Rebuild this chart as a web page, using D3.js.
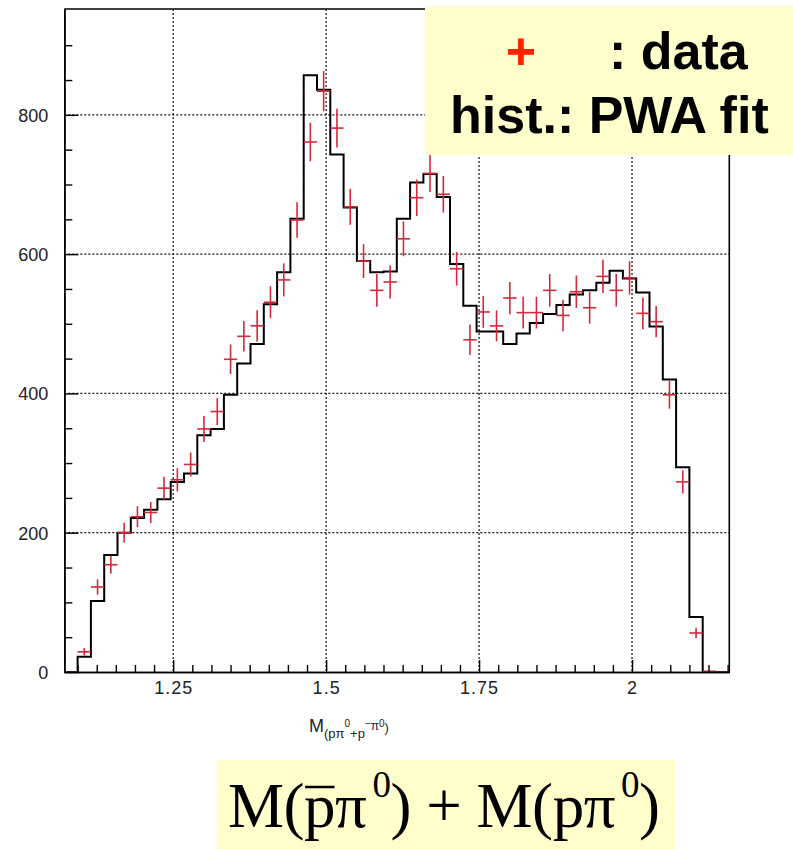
<!DOCTYPE html>
<html>
  <head>
    <meta charset="utf-8">
    <title>M(pbar pi0) + M(p pi0) - data vs PWA fit</title>
    <script src="https://d3js.org/d3.v7.min.js"></script>
    <style>
      body { margin: 0; background: #fff; }
      text { font-family: 'Liberation Sans', Arial, sans-serif; }
    </style>
  </head>
  <body>
    <div id="chart"></div>

    <script>
      // Histogram binning (50 bins) and axis ranges
      const xMin = 1.072;
      const xMax = 2.159;
      const nBins = 50;
      const yMax = 952;

      // PWA fit histogram contents, one per bin
      const fitValues = [
        0, 22, 102, 168, 200, 221, 233, 248, 273, 285,
        340, 349, 398, 443, 471, 528, 574, 651, 857, 836,
        743, 667, 590, 574, 575, 651, 703, 715, 682, 586,
        526, 489, 489, 471, 486, 501, 514, 527, 542, 548,
        559, 576, 565, 545, 496, 420, 294, 79, 0, 0
      ];

      // measured data, one per bin (errors are sqrt(N))
      const dataValues = [
        0, 29, 122, 154, 200, 223, 229, 264, 276, 298,
        349, 374, 449, 482, 497, 531, 563, 649, 761, 834,
        781, 668, 590, 548, 560, 622, 681, 716, 686, 579,
        477, 517, 497, 537, 516, 516, 548, 512, 546, 523,
        568, 548, 566, 515, 503, 398, 273, 56, 1, 0
      ];

      // tick values and labels
      const xMajorTicks = [1.25, 1.5, 1.75, 2];
      const xTickLabels = ['1.25', '1.5', '1.75', '2'];
      const yMajorTicks = [0, 200, 400, 600, 800];
      const yGridLines = [200, 400, 600, 800];

      const width = 793, height = 849;
      const plot = { left: 64.3, right: 729.3, top: 9, bottom: 672 };

      const x = d3.scaleLinear().domain([xMin, xMax]).range([plot.left, plot.right]);
      const y = d3.scaleLinear().domain([0, yMax]).range([plot.bottom, plot.top]);
      const binWidth = (xMax - xMin) / nBins;
      const edge = i => xMin + i * binWidth;

      const svg = d3.select('#chart')
        .append('svg')
        .attr('width', width)
        .attr('height', height);

      // grid
      svg.append('g')
        .selectAll('line')
        .data(xMajorTicks)
        .enter()
        .append('line')
        .attr('x1', d => x(d)).attr('x2', d => x(d))
        .attr('y1', plot.top).attr('y2', plot.bottom)
        .attr('stroke', '#111').attr('stroke-width', 1.2)
        .attr('stroke-dasharray', '2,2');

      svg.append('g')
        .selectAll('line')
        .data(yGridLines)
        .enter()
        .append('line')
        .attr('x1', plot.left).attr('x2', plot.right)
        .attr('y1', d => y(d)).attr('y2', d => y(d))
        .attr('stroke', '#111').attr('stroke-width', 1.2)
        .attr('stroke-dasharray', '2,2');

      // fit histogram as step line
      const histPoints = fitValues.map((v, i) => [edge(i), v]);
      histPoints.push([edge(nBins), fitValues[nBins - 1]]);
      svg.append('path')
        .attr('d', d3.line()
          .x(d => x(d[0]))
          .y(d => y(d[1]))
          .curve(d3.curveStepAfter)(histPoints))
        .attr('fill', 'none')
        .attr('stroke', '#000')
        .attr('stroke-width', 2);

      // data crosses: horizontal bar = bin width, vertical bar = sqrt(N)
      const red = '#cf2b3a';
      const points = dataValues.map((v, i) => ({ v, i }));
      const pts = svg.append('g');
      pts.selectAll('line.h')
        .data(points)
        .enter()
        .append('line')
        .attr('class', 'h')
        .attr('x1', d => x(edge(d.i))).attr('x2', d => x(edge(d.i + 1)))
        .attr('y1', d => y(d.v)).attr('y2', d => y(d.v))
        .attr('stroke', red).attr('stroke-width', 1.6);
      pts.selectAll('line.v')
        .data(points.filter(d => d.v > 0))
        .enter()
        .append('line')
        .attr('class', 'v')
        .attr('x1', d => x(edge(d.i) + binWidth / 2))
        .attr('x2', d => x(edge(d.i) + binWidth / 2))
        .attr('y1', d => y(d.v - Math.sqrt(d.v)))
        .attr('y2', d => y(d.v + Math.sqrt(d.v)))
        .attr('stroke', red).attr('stroke-width', 1.6);

      // axes
      const xAxis = svg.append('g')
        .attr('transform', `translate(0,${plot.bottom})`)
        .call(d3.axisBottom(x)
          .tickValues(xMajorTicks)
          .tickFormat((d, i) => xTickLabels[i])
          .tickSize(-12)
          .tickSizeOuter(0)
          .tickPadding(9));
      svg.append('g')
        .attr('transform', `translate(0,${plot.bottom})`)
        .call(d3.axisBottom(x)
          .tickValues(d3.range(1.09375, xMax, 0.03125).filter(v => Math.abs(v * 4 - Math.round(v * 4)) > 1e-6))
          .tickFormat('')
          .tickSize(-7)
          .tickSizeOuter(0));

      const yAxis = svg.append('g')
        .attr('transform', `translate(${plot.left},0)`)
        .call(d3.axisLeft(y)
          .tickValues(yMajorTicks)
          .tickSize(-14)
          .tickSizeOuter(0)
          .tickPadding(16));
      svg.append('g')
        .attr('transform', `translate(${plot.left},0)`)
        .call(d3.axisLeft(y)
          .tickValues(d3.range(50, 950, 50).filter(v => v % 200 !== 0))
          .tickFormat('')
          .tickSize(-8)
          .tickSizeOuter(0));

      svg.selectAll('.domain').attr('stroke', '#000').attr('stroke-width', 1.6);
      svg.selectAll('.tick line').attr('stroke', '#000').attr('stroke-width', 1.4);
      svg.selectAll('.tick text')
        .attr('fill', '#222')
        .style('font-size', '18px')
        .style('font-family', "'Liberation Sans', Arial, sans-serif");
      xAxis.selectAll('.tick text').attr('letter-spacing', 1);
      yAxis.selectAll('.tick text').attr('dy', '0.36em');

      // frame top and right
      svg.append('path')
        .attr('d', `M${plot.left},${plot.top}H${plot.right}V${plot.bottom}`)
        .attr('fill', 'none')
        .attr('stroke', '#000')
        .attr('stroke-width', 1.6);

      // x axis title  M_(p pi0 + pbar pi0)
      const xt = svg.append('text')
        .attr('x', 309).attr('y', 732)
        .attr('fill', '#222')
        .style('font-size', '18px');
      xt.append('tspan').text('M');
      xt.append('tspan').attr('dy', 6).style('font-size', '13px').text('(pπ');
      xt.append('tspan').attr('dy', -11).style('font-size', '10px').text('0');
      xt.append('tspan').attr('dy', 11).style('font-size', '13px').text('+p');
      xt.append('tspan').attr('dy', -11).style('font-size', '10px').text('−');
      xt.append('tspan').attr('dy', 3).style('font-size', '12px').text('π');
      xt.append('tspan').attr('dy', -3).style('font-size', '10px').text('0');
      xt.append('tspan').attr('dy', 5).style('font-size', '13px').text(')');

      // legend box
      svg.append('rect')
        .attr('x', 425).attr('y', 6)
        .attr('width', width - 425).attr('height', 149)
        .attr('fill', '#ffffcc');
      svg.append('text')
        .attr('x', 521).attr('y', 69)
        .attr('text-anchor', 'middle')
        .attr('fill', '#ff2200')
        .style('font-size', '52px').style('font-weight', 'bold')
        .text('+');
      svg.append('text')
        .attr('x', 609).attr('y', 69)
        .attr('fill', '#000')
        .style('font-size', '52px').style('font-weight', 'bold')
        .text(': data');
      svg.append('text')
        .attr('x', 450).attr('y', 133)
        .attr('fill', '#000')
        .style('font-size', '52px').style('font-weight', 'bold')
        .text('hist.: PWA fit');

      // bottom formula box
      svg.append('rect')
        .attr('x', 218).attr('y', 760)
        .attr('width', 457).attr('height', 89)
        .attr('fill', '#ffffcc');
      const fg = svg.append('g').attr('transform', 'translate(228,827)');
      const ft = fg.append('text')
        .attr('x', 0).attr('y', 0)
        .attr('fill', '#000')
        .attr('textLength', 432)
        .attr('lengthAdjust', 'spacing')
        .style('font-family', "'Liberation Serif', 'Times New Roman', serif")
        .style('font-size', '63px')
        .style('white-space', 'pre');
      ft.append('tspan').text('M(pπ');
      ft.append('tspan').attr('dy', -30).attr('dx', 6).style('font-size', '37px').text('0');
      ft.append('tspan').attr('dy', 30).text(') + M(pπ');
      ft.append('tspan').attr('dy', -30).attr('dx', 6).style('font-size', '37px').text('0');
      ft.append('tspan').attr('dy', 30).text(')');
      // bar over the first p
      const node = ft.node();
      const p0 = node.getStartPositionOfChar(2).x;
      const p1 = node.getEndPositionOfChar(2).x;
      fg.append('line')
        .attr('x1', p0 + 1).attr('x2', p1 - 1)
        .attr('y1', -40).attr('y2', -40)
        .attr('stroke', '#000').attr('stroke-width', 2.5);
    </script>
  </body>
</html>
